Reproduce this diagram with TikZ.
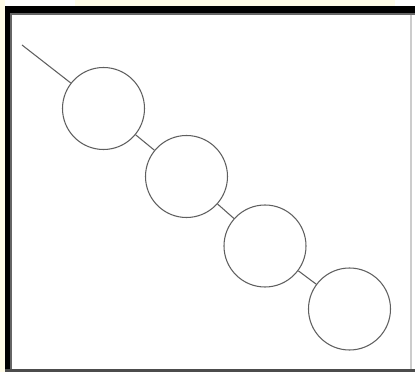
\documentclass[tikz,border=0pt]{standalone}
\usepackage{tikz}
\usetikzlibrary{positioning}
\definecolor{creambg}{RGB}{255, 252, 232}
\definecolor{ringgray}{RGB}{95, 95, 95}

\begin{document}
\begin{tikzpicture}[x=0.03cm, y=-0.03cm,
  ring/.style={draw=ringgray, circle, line width=0.9pt, minimum size=2.46cm, inner sep=0pt, fill=white},
  link/.style={draw=ringgray, line width=0.9pt}
]
  % Frame
  \useasboundingbox (0,0) rectangle (415,372);
  \fill[white] (0,0) rectangle (415,372);
  \fill[creambg] (0,0) rectangle (5,372);
  \fill[creambg] (75,0) rectangle (395,6);
  \fill[black] (5,6) rectangle (415,13);
  \fill[black] (5,6) rectangle (10,372);
  \fill[black!60] (10,13) rectangle (415,15);
  \fill[black!60] (10,13) rectangle (12,372);
  \fill[black!70] (5,369) rectangle (415,372);
  \fill[black!20] (410,15) rectangle (412,369);

  % Beads
  \coordinate (start) at (22,45);
  \node[ring] (c1) at (103.5,108.5) {};
  \node[ring] (c2) at (186.5,176.5) {};
  \node[ring] (c3) at (265,246) {};
  \node[ring] (c4) at (349.5,309) {};

  \draw[link] (start) -- (c1);
  \draw[link] (c1) -- (c2);
  \draw[link] (c2) -- (c3);
  \draw[link] (c3) -- (c4);
\end{tikzpicture}
\end{document}
